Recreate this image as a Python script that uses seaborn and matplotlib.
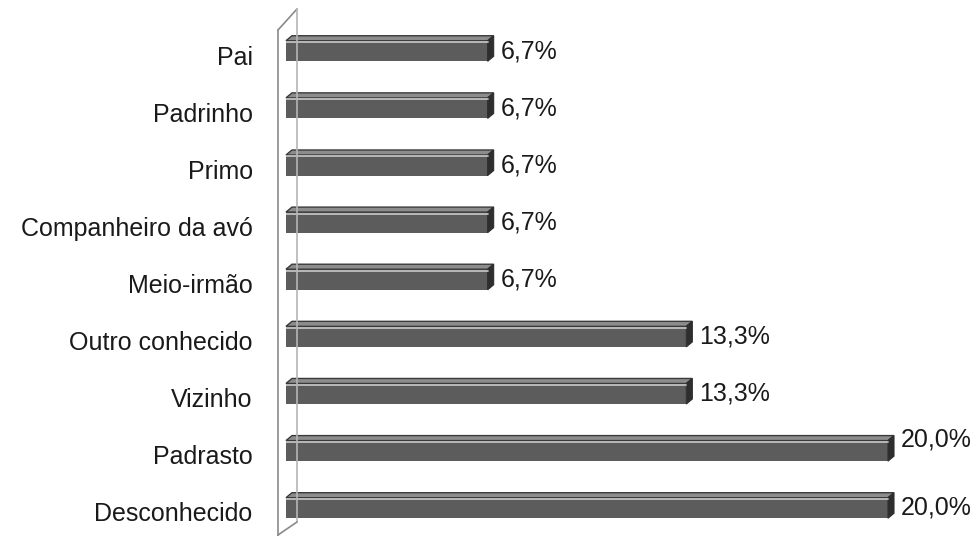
import pandas as pd
import seaborn as sns
import matplotlib.pyplot as plt
import matplotlib.transforms as mtransforms
from matplotlib.patches import Polygon
from matplotlib.lines import Line2D

categorias = ["Pai", "Padrinho", "Primo", "Companheiro da avó", "Meio-irmão",
              "Outro conhecido", "Vizinho", "Padrasto", "Desconhecido"]
percentuais = [6.7, 6.7, 6.7, 6.7, 6.7, 13.3, 13.3, 20.0, 20.0]
rotulos = ["6,7%", "6,7%", "6,7%", "6,7%", "6,7%", "13,3%", "13,3%", "20,0%", "20,0%"]

df = pd.DataFrame({"categoria": categorias, "pct": percentuais})

sns.set_theme(style="white")
plt.rcParams['font.family'] = ['Liberation Sans', 'DejaVu Sans']

W, H = 976, 536
fig = plt.figure(figsize=(W / 100, H / 100), dpi=100)
ax = fig.add_axes([286 / W, 0, 690 / W, 1])

sns.barplot(data=df, y="categoria", x="pct", orient="h", color="#5c5c5c",
            width=0.36, saturation=1, edgecolor="none", ax=ax)

px_x = 30.1   # pixels por ponto percentual
px_y = 57.1   # pixels por categoria
ax.set_xlim(0, 690 / px_x)
ax.set_ylim(8 + 28 / px_y, -51 / px_y)
ax.set_xlabel("")
ax.set_ylabel("")
ax.set_xticks([])
ax.tick_params(axis="y", length=0, pad=24, labelsize=18, labelcolor="#1a1a1a")
for s in ax.spines.values():
    s.set_visible(False)

# rótulos das categorias um pouco abaixo do centro da barra
desce = mtransforms.ScaledTranslation(0, -4 / 100, fig.dpi_scale_trans)
for lab in ax.get_yticklabels():
    lab.set_transform(lab.get_transform() + desce)

# efeito 3D nas barras
dx = 6 / px_x
dy = 5 / px_y
for p in list(ax.patches):
    x0, y0 = p.get_x(), p.get_y()
    w, h = p.get_width(), p.get_height()
    x1 = x0 + w
    topo = Polygon([(x0, y0), (x0 + dx, y0 - dy), (x1 + dx, y0 - dy), (x1, y0)],
                   closed=True, facecolor="#8c8c8c", edgecolor="#3a3a3a", lw=1, clip_on=False)
    lado = Polygon([(x1, y0), (x1 + dx, y0 - dy), (x1 + dx, y0 + h - dy), (x1, y0 + h)],
                   closed=True, facecolor="#2e2e2e", edgecolor="#2e2e2e", lw=0.8, clip_on=False)
    ax.add_patch(topo)
    ax.add_patch(lado)
    ax.plot([x0, x1], [y0 + 1.5 / px_y, y0 + 1.5 / px_y], color="#c9c9c9", lw=1.2)

# rótulos de valor
for i, (v, txt) in enumerate(zip(percentuais, rotulos)):
    desloc = -11 / px_y if categorias[i] == "Padrasto" else 0
    ax.text(v + 13 / px_x, i + desloc, txt, va="center", ha="left",
            fontsize=18, color="#1a1a1a", clip_on=False)

# parede do eixo (estilo 3D)
def linha(x1, y1, x2, y2, cor):
    fig.add_artist(Line2D([x1 / W, x2 / W], [1 - y1 / H, 1 - y2 / H], color=cor, lw=1.2))

linha(278, 30, 278, 536, "#8a8a8a")
linha(278, 30, 297, 9, "#8a8a8a")
linha(297, 9, 297, 522, "#b5b5b5")
linha(278, 535, 297, 522, "#8a8a8a")

fig.savefig("out.png", dpi=100, facecolor="white")
